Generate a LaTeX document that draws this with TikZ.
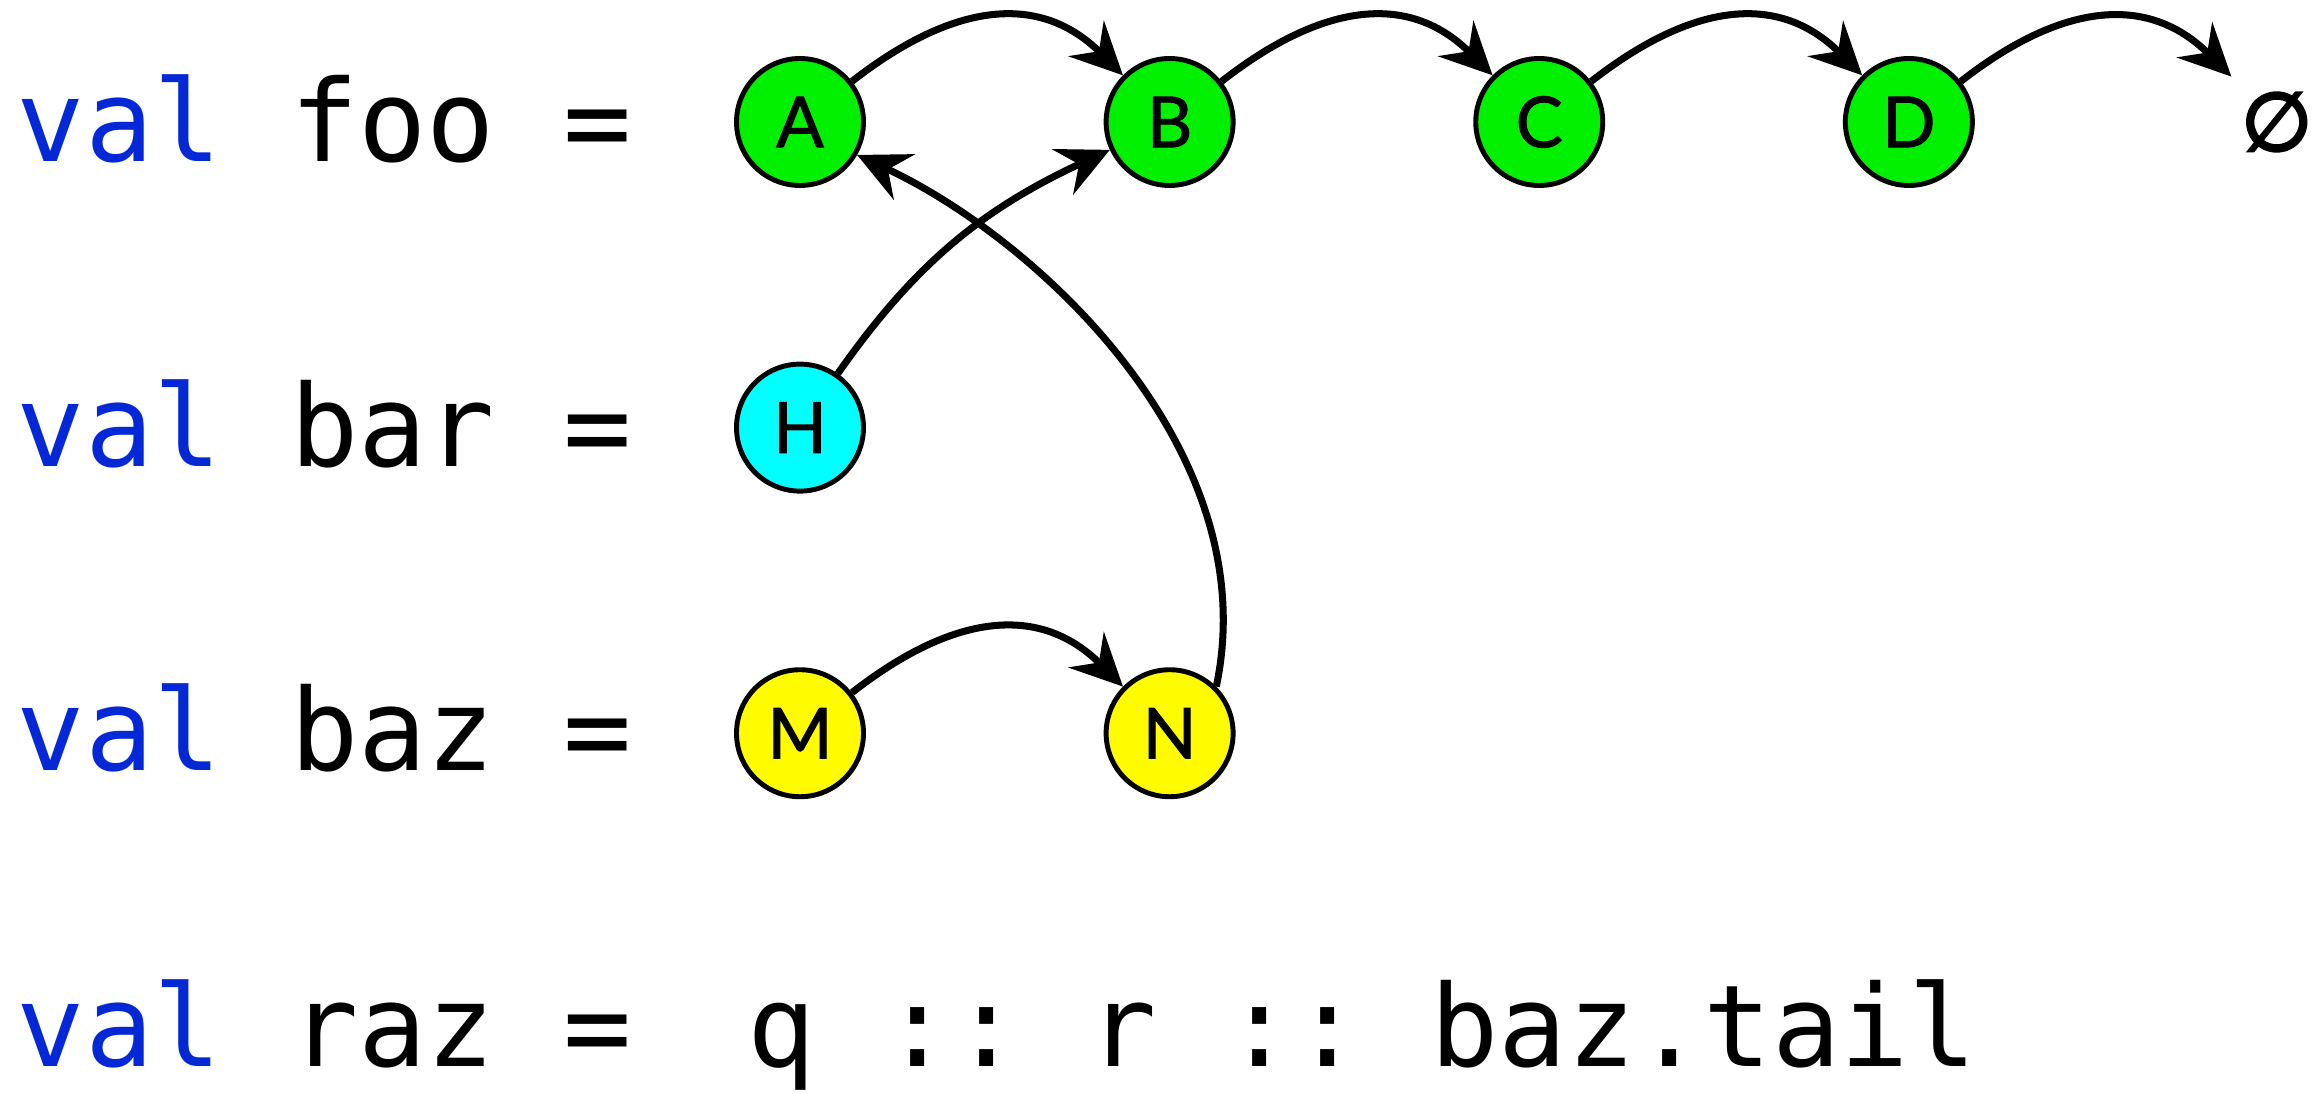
\documentclass[tikz,border=0pt]{standalone}
\usepackage{fontspec}
\usepackage{xcolor}
\usepackage{tikz}
\usetikzlibrary{arrows.meta, positioning}
\newfontfamily\codefont{DejaVu Sans Mono}
\newfontfamily\cellfont[FakeBold=1.4]{Lato}
\newfontfamily\nilfont[FakeBold=4]{DejaVu Sans}
\definecolor{valblue}{RGB}{4,40,214}
\definecolor{consgreen}{RGB}{0,240,0}
\definecolor{conscyan}{RGB}{0,255,255}
\definecolor{consyellow}{RGB}{255,252,0}
\newcommand{\kw}[1]{\textcolor{valblue}{#1}}
\tikzset{
  cell/.style={
    circle, draw=black, line width=1.4pt, minimum size=1.27cm, inner sep=0pt,
    font=\cellfont\fontsize{20}{20}\selectfont
  },
  foocell/.style={cell, fill=consgreen},
  barcell/.style={cell, fill=conscyan},
  bazcell/.style={cell, fill=consyellow},
  nilcell/.style={circle, minimum size=1.27cm, inner sep=0pt, font=\nilfont\fontsize{23}{23}\selectfont},
  code/.style={anchor=base west, inner sep=0pt, font=\codefont\fontsize{32.3}{38}\selectfont\frenchspacing},
  ptr/.style={-{Stealth[length=5.2mm, width=5mm, inset=1.8mm]}, line width=2pt},
  hop/.style={ptr, out=38, in=135, looseness=1.15}
}
\begin{document}
\begin{tikzpicture}[node distance=1.737cm and 2.377cm]
  \useasboundingbox (0,0) rectangle (23.2,10.94);

  % the lists as cons cells
  \node[foocell] (A) at (8.00,9.72) {A};
  \node[foocell, right=of A] (B) {B};
  \node[foocell, right=of B] (C) {C};
  \node[foocell, right=of C] (D) {D};
  \node[nilcell, right=of D] (nil) {∅};
  \node[barcell, below=of A] (H) {H};
  \node[bazcell, below=of H] (M) {M};
  \node[bazcell, right=of M] (N) {N};

  \node[code] (foo) at (0.16,9.32) {\kw{val} foo =};
  \node[code] (bar) at (0.16,6.27) {\kw{val} bar =};
  \node[code] (baz) at (0.16,3.23) {\kw{val} baz =};
  \node[code] (raz) at (0.16,0.27) {\kw{val} raz =\hspace{0.47cm} q :: r :: baz.tail};

  \draw[hop] (A) to (B);
  \draw[hop] (B) to (C);
  \draw[hop] (C) to (D);
  \draw[hop] (D) to (nil);
  \draw[hop] (M) to (N);

  % shared tails
  \draw[ptr] (H) to[out=55, in=205] (B);
  \draw[ptr] (N.45) to[out=78, in=-25, out distance=2.4cm, in distance=2cm] (A.-30);
\end{tikzpicture}
\end{document}
